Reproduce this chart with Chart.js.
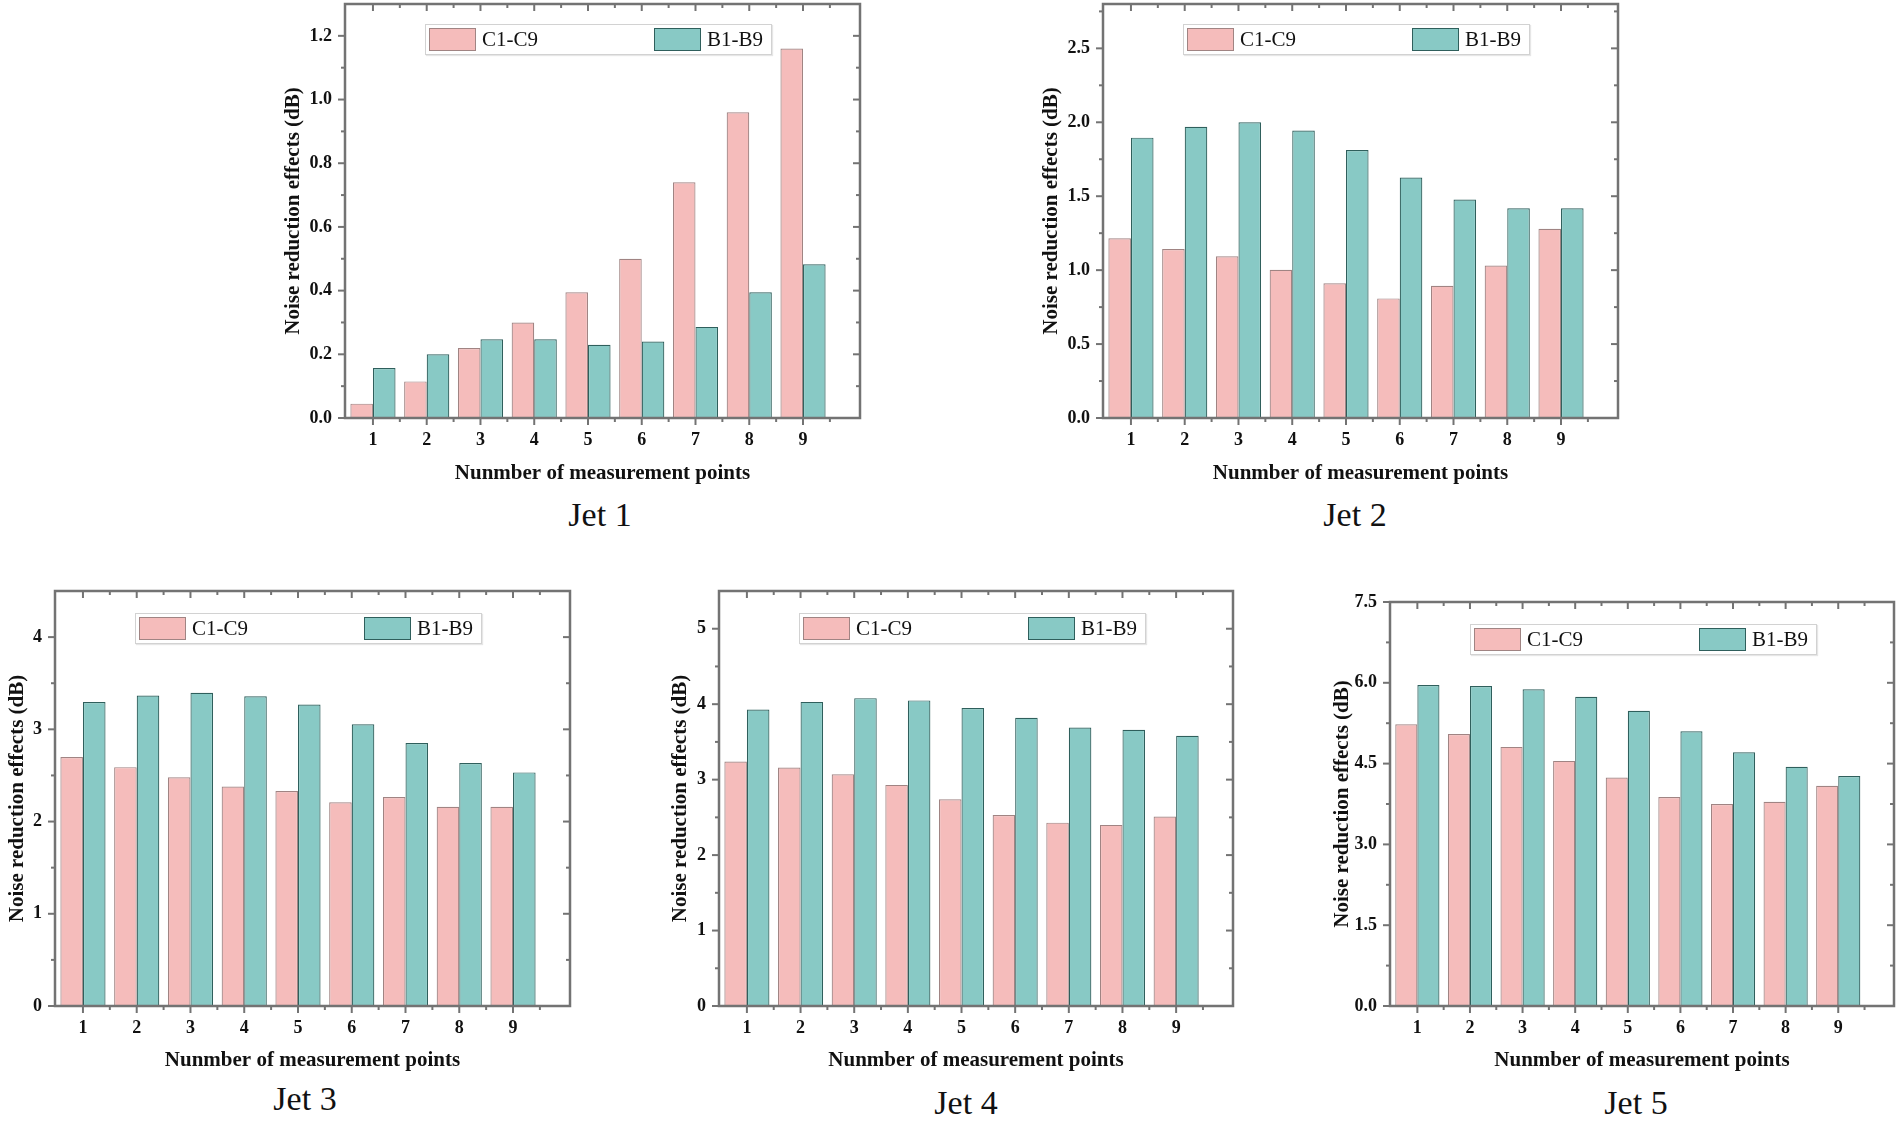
<!DOCTYPE html>
<html>
<head>
<meta charset="utf-8">
<script src="https://cdn.jsdelivr.net/npm/chart.js@4.4.1/dist/chart.umd.min.js"></script>
<style>
  body { margin: 0; background: #fff; }
  #page { position: relative; width: 1900px; height: 1121px; overflow: hidden; background: #fff; }
  .box { position: absolute; }
  .legend { position: absolute; width: 345px; height: 29px; border: 1.5px solid #d2d2d2; background: #fff;
            box-shadow: 1px 1px 1px #e6e6e6; font: 21px "Liberation Serif", serif; color: #111; }
  .legend .sw { position: absolute; top: 3px; width: 45px; height: 21px; }
  .legend .tx { position: absolute; top: 0px; line-height: 29px; }
  .jet { position: absolute; transform: translate(-50%, -50%); font: 34px "Liberation Serif", serif; color: #111; white-space: nowrap; }
</style>
</head>
<body>
<div id="page"></div>
<script>
// measurement points 1..9
const points = [1, 2, 3, 4, 5, 6, 7, 8, 9];
const seriesNames = ["C1-C9", "B1-B9"];

// Jet 1
const jet1C = [0.045, 0.115, 0.22, 0.30, 0.395, 0.50, 0.74, 0.96, 1.16];
const jet1B = [0.157, 0.20, 0.247, 0.247, 0.23, 0.24, 0.286, 0.395, 0.483];
const jet1Ticks = [0, 0.2, 0.4, 0.6, 0.8, 1.0, 1.2];

// Jet 2
const jet2C = [1.215, 1.143, 1.094, 1.002, 0.911, 0.809, 0.894, 1.031, 1.28];
const jet2B = [1.896, 1.969, 2.0, 1.944, 1.812, 1.626, 1.478, 1.418, 1.418];
const jet2Ticks = [0, 0.5, 1.0, 1.5, 2.0, 2.5];

// Jet 3
const jet3C = [2.70, 2.59, 2.48, 2.38, 2.33, 2.21, 2.265, 2.16, 2.16];
const jet3B = [3.296, 3.366, 3.397, 3.358, 3.268, 3.054, 2.852, 2.634, 2.533];
const jet3Ticks = [0, 1, 2, 3, 4];

// Jet 4
const jet4C = [3.24, 3.16, 3.07, 2.93, 2.74, 2.53, 2.43, 2.40, 2.51];
const jet4B = [3.93, 4.03, 4.08, 4.05, 3.95, 3.82, 3.69, 3.66, 3.58];
const jet4Ticks = [0, 1, 2, 3, 4, 5];

// Jet 5
const jet5C = [5.23, 5.05, 4.81, 4.55, 4.24, 3.88, 3.75, 3.79, 4.09];
const jet5B = [5.96, 5.94, 5.88, 5.74, 5.48, 5.10, 4.71, 4.44, 4.27];
const jet5Ticks = [0, 1.5, 3.0, 4.5, 6.0, 7.5];

const pinkFill = "#f5bcbb", pinkEdge = "#a08483";
const tealFill = "#88c9c5", tealEdge = "#2f5f5c";
const frameColor = "#737373";
const serif = "'Liberation Serif', 'Times New Roman', serif";

Chart.defaults.font.family = serif;
Chart.defaults.color = "#111";

// frame with Origin-style ticks: outward on left/bottom, inward on top/right
const frameTicks = {
  id: "frameTicks",
  afterDraw(chart) {
    const { ctx, chartArea: a, scales: { x, y } } = chart;
    const yt = chart.options.plugins.frameTicks.ticks;
    const yMax = y.max;
    ctx.save();
    ctx.strokeStyle = frameColor;
    const line = (x1, y1, x2, y2) => { ctx.beginPath(); ctx.moveTo(x1, y1); ctx.lineTo(x2, y2); ctx.stroke(); };
    ctx.lineWidth = 2;
    points.forEach(v => {
      const px = x.getPixelForValue(v);
      line(px, a.bottom, px, a.bottom + 7);
      line(px, a.top, px, a.top + 7);
      const pm = x.getPixelForValue(v + 0.5);
      line(pm, a.bottom, pm, a.bottom + 4);
      line(pm, a.top, pm, a.top + 4);
    });
    const step = yt[1] - yt[0];
    yt.forEach(v => {
      const py = y.getPixelForValue(v);
      line(a.left - 7, py, a.left, py);
      line(a.right - 7, py, a.right, py);
      const vm = v + step / 2;
      if (vm < yMax) {
        const pm = y.getPixelForValue(vm);
        line(a.left - 4, pm, a.left, pm);
        line(a.right - 4, pm, a.right, pm);
      }
    });
    ctx.lineWidth = 2.5;
    ctx.strokeRect(a.left, a.top, a.right - a.left, a.bottom - a.top);
    ctx.restore();
  }
};

function makePanel(p) {
  const page = document.getElementById("page");
  const cl = p.yTitleX - 13;
  const ct = Math.max(0, p.T - 10);
  const padRight = 6;
  const yW = p.L - cl;
  const xH = p.xTitleY + 13 - p.B;
  const w = p.R + padRight - cl;
  const h = p.B + xH - ct;

  const box = document.createElement("div");
  box.className = "box";
  box.style.left = cl + "px";
  box.style.top = ct + "px";
  box.style.width = w + "px";
  box.style.height = h + "px";
  const cv = document.createElement("canvas");
  box.appendChild(cv);
  page.appendChild(box);

  new Chart(cv, {
    type: "bar",
    data: {
      datasets: [
        { label: seriesNames[0], data: points.map((v, i) => ({ x: v, y: p.c[i] })),
          backgroundColor: pinkFill, borderColor: pinkEdge, borderWidth: 1.2,
          categoryPercentage: 0.84, barPercentage: 1 },
        { label: seriesNames[1], data: points.map((v, i) => ({ x: v, y: p.b[i] })),
          backgroundColor: tealFill, borderColor: tealEdge, borderWidth: 1.2,
          categoryPercentage: 0.84, barPercentage: 1 }
      ]
    },
    options: {
      responsive: true,
      maintainAspectRatio: false,
      animation: false,
      layout: { padding: { top: p.T - ct, right: padRight, left: 0, bottom: 0 } },
      plugins: {
        legend: { display: false },
        tooltip: { enabled: false },
        frameTicks: { ticks: p.ticks }
      },
      scales: {
        x: {
          type: "linear", min: 0.48, max: 10.06, offset: false,
          grid: { display: false, drawTicks: false },
          border: { display: false },
          afterBuildTicks: s => { s.ticks = points.map(v => ({ value: v })); },
          afterFit: s => { s.height = xH; s.paddingLeft = 0; s.paddingRight = 0; },
          ticks: { padding: 12, font: { size: 18, weight: "bold" }, callback: v => String(v) },
          title: { display: true, text: "Nunmber of measurement points", padding: 0,
                   font: { size: 21, weight: "bold" } }
        },
        y: {
          min: 0, max: p.max,
          grid: { display: false, drawTicks: false },
          border: { display: false },
          afterBuildTicks: s => { s.ticks = p.ticks.map(v => ({ value: v })); },
          afterFit: s => { s.width = yW; s.paddingTop = 0; s.paddingBottom = 0; },
          ticks: { padding: 13, font: { size: 18, weight: "bold" }, callback: v => v.toFixed(p.dec) },
          title: { display: true, text: "Noise reduction effects (dB)", padding: 0,
                   font: { size: 21, weight: "bold" } }
        }
      }
    },
    plugins: [frameTicks]
  });

  // legend box inside plot
  const lg = document.createElement("div");
  lg.className = "legend";
  lg.style.left = (p.L + 80) + "px";
  lg.style.top = (p.T + p.legTop) + "px";
  lg.innerHTML =
    `<div class="sw" style="left:3px;background:${pinkFill};border:1.5px solid ${pinkEdge}"></div>` +
    `<div class="tx" style="left:56px">${seriesNames[0]}</div>` +
    `<div class="sw" style="left:228px;background:${tealFill};border:1.5px solid ${tealEdge}"></div>` +
    `<div class="tx" style="left:281px">${seriesNames[1]}</div>`;
  page.appendChild(lg);

  const jl = document.createElement("div");
  jl.className = "jet";
  jl.style.left = p.jetX + "px";
  jl.style.top = p.jetY + "px";
  jl.textContent = p.name;
  page.appendChild(jl);
}

makePanel({ name: "Jet 1", c: jet1C, b: jet1B, ticks: jet1Ticks, max: 1.3, dec: 1,
  L: 345, R: 860, T: 4, B: 418, yTitleX: 294, xTitleY: 473, legTop: 20, jetX: 600, jetY: 515 });
makePanel({ name: "Jet 2", c: jet2C, b: jet2B, ticks: jet2Ticks, max: 2.8, dec: 1,
  L: 1103, R: 1618, T: 4, B: 418, yTitleX: 1052, xTitleY: 473, legTop: 20, jetX: 1355, jetY: 515 });
makePanel({ name: "Jet 3", c: jet3C, b: jet3B, ticks: jet3Ticks, max: 4.5, dec: 0,
  L: 55, R: 570, T: 591, B: 1006, yTitleX: 18, xTitleY: 1060, legTop: 22, jetX: 305, jetY: 1099 });
makePanel({ name: "Jet 4", c: jet4C, b: jet4B, ticks: jet4Ticks, max: 5.5, dec: 0,
  L: 719, R: 1233, T: 591, B: 1006, yTitleX: 681, xTitleY: 1060, legTop: 22, jetX: 966, jetY: 1103 });
makePanel({ name: "Jet 5", c: jet5C, b: jet5B, ticks: jet5Ticks, max: 7.5, dec: 1,
  L: 1390, R: 1894, T: 602, B: 1006, yTitleX: 1343, xTitleY: 1060, legTop: 22, jetX: 1636, jetY: 1103 });
</script>
</body>
</html>
